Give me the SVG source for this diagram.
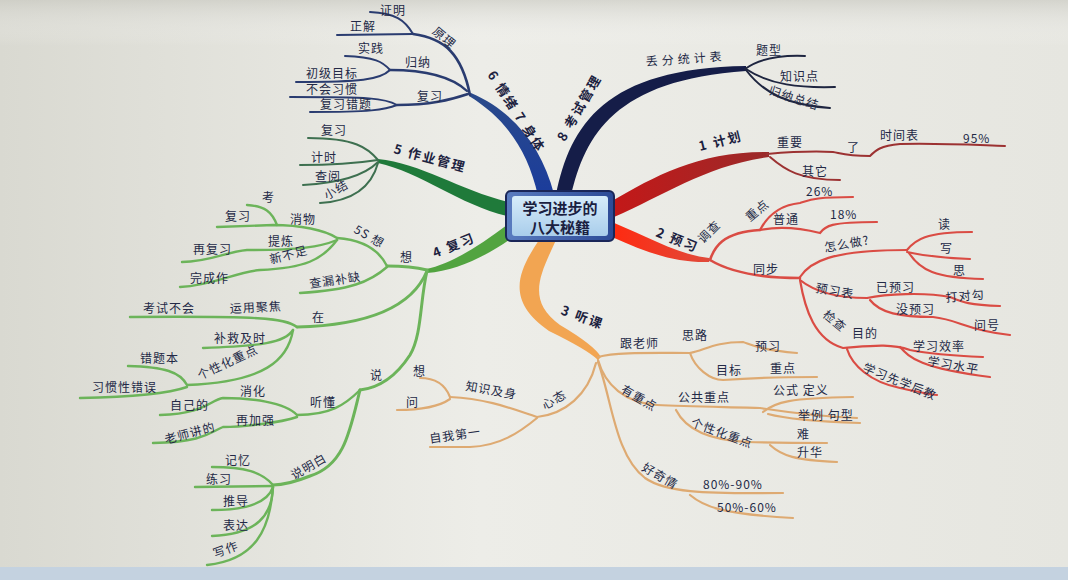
<svg xmlns="http://www.w3.org/2000/svg" width="1068" height="580" viewBox="0 0 1068 580">
<defs>
<linearGradient id="bg" x1="0" y1="0" x2="1" y2="0">
<stop offset="0" stop-color="#d9d9d1"/><stop offset="0.45" stop-color="#ededE8"/><stop offset="1" stop-color="#e6e6e0"/>
</linearGradient>
<linearGradient id="bgv" x1="0" y1="0" x2="0" y2="1">
<stop offset="0" stop-color="#c8c8c0" stop-opacity="0.6"/><stop offset="0.08" stop-color="#ffffff" stop-opacity="0"/><stop offset="1" stop-color="#ffffff" stop-opacity="0"/>
</linearGradient>
<linearGradient id="box" x1="0" y1="0" x2="0" y2="1">
<stop offset="0" stop-color="#d6ecfa"/><stop offset="1" stop-color="#a9cdeb"/>
</linearGradient>
<linearGradient id="boxo" x1="0" y1="0" x2="1" y2="0">
<stop offset="0" stop-color="#5a7cc0"/><stop offset="1" stop-color="#2c4a96"/>
</linearGradient>
<linearGradient id="gB" x1="0" y1="1" x2="0" y2="0">
<stop offset="0" stop-color="#1b3c9c"/><stop offset="1" stop-color="#2a4a8a"/>
</linearGradient>
<linearGradient id="gR1" x1="0" y1="0" x2="1" y2="0">
<stop offset="0" stop-color="#c41818"/><stop offset="1" stop-color="#9a2a2a"/>
</linearGradient>
<linearGradient id="gR2" x1="0" y1="0" x2="1" y2="0">
<stop offset="0" stop-color="#ff2a10"/><stop offset="1" stop-color="#e04a3a"/>
</linearGradient>
</defs>
<style>
.t{font-family:"Noto Sans CJK SC","Noto Sans",sans-serif;font-size:12px;letter-spacing:1px;fill:#232946}
.m{font-family:"Noto Sans CJK SC","Noto Sans",sans-serif;font-size:13px;font-weight:bold;letter-spacing:2px;fill:#1c2240}
.c{font-family:"Noto Sans CJK SC","Noto Sans",sans-serif;font-size:15px;font-weight:bold;fill:#1a2040}
.k{fill:none;stroke-linecap:round}
.th{stroke:none}
.l6{stroke:#2a3c70;stroke-width:2}
.l8{stroke:#1e2540;stroke-width:2}
.l1{stroke:#9c3232;stroke-width:2}
.l2{stroke:#da4c44;stroke-width:2.2}
.l3{stroke:#deaa72;stroke-width:2.2}
.l4{stroke:#6cb45a;stroke-width:2.4}
.l5{stroke:#3e7050;stroke-width:2}
</style>
<rect x="0" y="0" width="1068" height="580" fill="url(#bg)"/>
<rect x="0" y="0" width="1068" height="580" fill="url(#bgv)"/>
<rect x="0" y="567" width="1068" height="13" fill="#c4d2e0"/>

<g id="connectors">
<!-- main thick branches -->
<path class="th" style="fill:url(#gB)" d="M538,196 C528,150 505,118 469,96 L471,93 C515,112 542,148 554,194 Z"/>
<path class="th" style="fill:#151d48" d="M556,195 C570,125 605,68 746,66 L746,71 C615,80 585,135 571,196 Z"/>
<path class="th" style="fill:url(#gR1)" d="M612,201 C655,176 700,151 769,152 L769,157 C705,166 665,195 614,217 Z"/>
<path class="th" style="fill:url(#gR2)" d="M612,222 C650,238 680,255 709,258 L709,262 C675,263 645,252 612,237 Z"/>
<path class="th" style="fill:#f2a552" d="M539,240 C519,270 504,300 549,331 Q588,350 598,360 L601,357 Q594,345 560,325 C526,300 540,275 556,240 Z"/>
<path class="th" style="fill:#52a440" d="M507,225 C480,245 452,264 426,269 L427,273 C456,271 486,256 509,240 Z"/>
<path class="th" style="fill:#1f7a3a" d="M508,202 C460,190 420,163 378,159 L378,163 C420,172 460,205 507,216 Z"/>

<!-- 6 -->
<path class="k l6" style="stroke-width:2.6" d="M470,95 C462,55 445,38 413,34"/>
<path class="k l6" d="M413,34 C405,20 395,13 370,12"/>
<path class="k l6" d="M413,34 L337,35"/>
<path class="k l6" style="stroke-width:2.4" d="M467,91 C450,75 420,70 390,70"/>
<path class="k l6" d="M390,70 C383,62 375,57 345,56"/>
<path class="k l6" d="M390,70 C380,80 360,82 296,82"/>
<path class="k l6" style="stroke-width:2.4" d="M468,94 C450,100 430,105 397,105"/>
<path class="k l6" d="M397,105 C385,98 370,97 290,97"/>
<path class="k l6" d="M397,105 C385,110 370,112 310,112"/>
<!-- 8 -->
<path class="k l8" d="M745,69 C760,58 780,55 805,56"/>
<path class="k l8" d="M746,69 C770,85 800,88 835,87"/>
<path class="k l8" d="M746,70 C765,95 790,105 830,108"/>
<!-- 1 -->
<path class="k l1" d="M767,154 C790,152 815,151 833,152 C840,153 845,156 870,156 C876,150 880,146 900,144 C940,143 975,145 1005,146"/>
<path class="k l1" d="M770,157 C785,170 800,180 840,180"/>
<!-- 2 -->
<path class="k l2" style="stroke-width:2.6" d="M710,260 C714,248 722,232 760,230"/>
<path class="k l2" d="M760,230 C768,215 780,205 800,203 C810,200 815,197 853,197"/>
<path class="k l2" d="M760,230 C780,226 800,228 820,233 C825,226 830,222 877,222"/>
<path class="k l2" style="stroke-width:2.6" d="M710,260 C730,272 760,278 800,278"/>
<path class="k l2" d="M800,277 C810,262 830,250 907,250"/>
<path class="k l2" d="M907,250 C915,240 925,232 972,232"/>
<path class="k l2" d="M907,252 C925,256 945,258 970,259"/>
<path class="k l2" d="M909,253 C920,270 935,278 983,279"/>
<path class="k l2" d="M800,280 C815,292 835,298 867,298"/>
<path class="k l2" d="M867,298 C885,294 925,292 950,297 C962,302 968,305 1000,306"/>
<path class="k l2" d="M870,300 C880,313 900,317 933,317 C960,320 965,330 1010,335"/>
<path class="k l2" d="M800,280 C805,310 815,340 843,348 C870,346 890,343 910,350 C930,354 960,356 983,357"/>
<path class="k l2" d="M900,347 C910,358 920,368 990,377"/>
<path class="k l2" d="M847,349 C852,365 870,382 900,388 C915,391 925,394 937,395"/>
<!-- 3 -->
<path class="k l3" d="M598,357 C615,352 650,353 690,353 C705,350 715,342 743,342 C752,345 760,350 797,353"/>
<path class="k l3" d="M690,353 C695,368 710,380 723,380 C750,378 780,377 817,377"/>
<path class="k l3" d="M598,360 C605,385 625,403 657,405 C690,407 740,407 760,408 C780,411 810,416 857,418"/>
<path class="k l3" d="M763,412 C775,402 790,398 853,397"/>
<path class="k l3" d="M768,414 C790,420 830,422 860,423"/>
<path class="k l3" d="M676,410 C685,428 705,440 747,442 C780,443 800,443 827,443"/>
<path class="k l3" d="M770,445 C782,456 795,460 837,462"/>
<path class="k l3" d="M598,362 C612,400 615,455 645,478 C665,492 700,494 783,493"/>
<path class="k l3" d="M690,495 C703,506 720,514 793,518"/>
<path class="k l3" d="M596,363 C588,395 565,414 537,417 C515,410 490,399 450,397"/>
<path class="k l3" d="M450,397 C445,384 435,378 420,378"/>
<path class="k l3" d="M450,399 C440,406 425,410 397,410"/>
<path class="k l3" d="M537,418 C520,432 500,446 470,447 L430,447"/>
<!-- 4 -->
<path class="k l4" style="stroke-width:3" d="M427,270 C415,267 400,266 387,266"/>
<path class="k l4" d="M387,266 C380,252 365,240 337,238"/>
<path class="k l4" d="M337,238 C325,230 300,225 273,225 L217,227"/>
<path class="k l4" d="M277,225 C272,212 265,206 247,205"/>
<path class="k l4" d="M337,240 C320,247 300,250 247,250 C225,252 210,262 182,262"/>
<path class="k l4" d="M337,240 C322,260 305,268 260,270 C235,272 215,285 180,287"/>
<path class="k l4" d="M387,267 C370,282 350,290 300,293"/>
<path class="k l4" style="stroke-width:3" d="M427,271 C415,300 380,325 297,327"/>
<path class="k l4" d="M297,327 C285,318 260,316 130,317"/>
<path class="k l4" d="M293,330 C285,343 260,346 203,348"/>
<path class="k l4" d="M293,330 C288,360 265,382 187,385"/>
<path class="k l4" d="M187,385 C180,372 165,367 128,366"/>
<path class="k l4" d="M187,387 C170,393 130,397 80,398"/>
<path class="k l4" style="stroke-width:3" d="M427,271 C420,300 422,335 410,355 C395,378 378,388 360,390"/>
<path class="k l4" d="M360,390 C345,405 330,415 297,415"/>
<path class="k l4" d="M297,415 C285,402 250,398 223,398 C210,400 205,414 160,415"/>
<path class="k l4" d="M297,417 C280,423 240,427 223,427 C210,432 205,442 153,443"/>
<path class="k l4" style="stroke-width:3" d="M360,390 C350,430 345,465 310,476 C295,482 285,485 273,485"/>
<path class="k l4" d="M273,485 C262,472 245,467 212,467"/>
<path class="k l4" d="M273,486 L195,487"/>
<path class="k l4" d="M273,487 C268,502 250,510 212,510"/>
<path class="k l4" d="M273,487 C272,515 258,534 212,536"/>
<path class="k l4" d="M273,487 C270,530 255,560 207,565"/>
<!-- 5 -->
<path class="k l5" d="M378,160 C368,148 355,138 308,138"/>
<path class="k l5" d="M378,160 C365,162 340,165 300,165"/>
<path class="k l5" d="M378,162 C365,175 340,183 303,185"/>
<path class="k l5" d="M378,163 C372,185 355,201 320,203"/>
</g>

<g id="center">
<rect x="506" y="191" width="108" height="50" rx="5" fill="url(#boxo)" stroke="#1a2658" stroke-width="2"/>
<rect x="512" y="196" width="96" height="40" rx="3" fill="url(#box)"/>
<text class="c" x="560" y="214" text-anchor="middle">学习进步的</text>
<text class="c" x="560" y="233" text-anchor="middle">八大秘籍</text>
</g>

<g id="n6">
<text class="m" x="516" y="116" text-anchor="middle" transform="rotate(57 516 112)">6 情绪 7 身体</text>
<text class="t" x="444" y="42" text-anchor="middle" transform="rotate(40 444 38)">原理</text>
<text class="t" x="380" y="15">证明</text>
<text class="t" x="350" y="31">正解</text>
<text class="t" x="358" y="53">实践</text>
<text class="t" x="405" y="67">归纳</text>
<text class="t" x="306" y="78">初级目标</text>
<text class="t" x="306" y="94">不会习惯</text>
<text class="t" x="417" y="101">复习</text>
<text class="t" x="320" y="109">复习错题</text>
</g>

<g id="n8">
<text class="m" x="580" y="112" text-anchor="middle" transform="rotate(-60 580 108)">8 考试管理</text>
<text class="t" x="646" y="66" style="letter-spacing:4px" transform="rotate(-4 646 66)">丢分统计表</text>
<text class="t" x="756" y="55">题型</text>
<text class="t" x="780" y="81">知识点</text>
<text class="t" x="768" y="94" transform="rotate(18 768 94)">归纳总结</text>
</g>

<g id="n1">
<text class="m" x="700" y="151" transform="rotate(-14 700 151)">1 计划</text>
<text class="t" x="777" y="147">重要</text>
<text class="t" x="847" y="152">了</text>
<text class="t" x="880" y="140">时间表</text>
<text class="t" x="963" y="143">95%</text>
<text class="t" x="802" y="176">其它</text>
</g>

<g id="n2">
<text class="m" x="655" y="236" transform="rotate(22 655 236)">2 预习</text>
<text class="t" x="703" y="244" transform="rotate(-45 703 244)">调查</text>
<text class="t" x="750" y="222" transform="rotate(-40 750 222)">重点</text>
<text class="t" x="806" y="196">26%</text>
<text class="t" x="773" y="224">普通</text>
<text class="t" x="830" y="219">18%</text>
<text class="t" x="753" y="274">同步</text>
<text class="t" x="825" y="252" transform="rotate(-10 825 252)">怎么做?</text>
<text class="t" x="938" y="229">读</text>
<text class="t" x="940" y="253">写</text>
<text class="t" x="953" y="275">思</text>
<text class="t" x="815" y="292" transform="rotate(10 815 292)">预习表</text>
<text class="t" x="876" y="292">已预习</text>
<text class="t" x="946" y="302" transform="rotate(-5 946 302)">打对勾</text>
<text class="t" x="896" y="314">没预习</text>
<text class="t" x="974" y="330">问号</text>
<text class="t" x="822" y="316" transform="rotate(40 822 316)">检查</text>
<text class="t" x="852" y="338">目的</text>
<text class="t" x="913" y="351">学习效率</text>
<text class="t" x="927" y="365" transform="rotate(10 927 365)">学习水平</text>
<text class="t" x="862" y="371" transform="rotate(22 862 371)">学习先学后教</text>
</g>

<g id="n3">
<text class="m" x="560" y="314" transform="rotate(20 560 314)">3 听课</text>
<text class="t" x="620" y="348">跟老师</text>
<text class="t" x="682" y="340">思路</text>
<text class="t" x="755" y="351">预习</text>
<text class="t" x="716" y="375">目标</text>
<text class="t" x="770" y="373">重点</text>
<text class="t" x="620" y="392" transform="rotate(30 620 392)">有重点</text>
<text class="t" x="678" y="402">公共重点</text>
<text class="t" x="773" y="395">公式 定义</text>
<text class="t" x="798" y="420">举例 句型</text>
<text class="t" x="690" y="426" transform="rotate(20 690 426)">个性化重点</text>
<text class="t" x="797" y="439">难</text>
<text class="t" x="797" y="457">升华</text>
<text class="t" x="641" y="470" transform="rotate(30 641 470)">好奇情</text>
<text class="t" x="703" y="489">80%-90%</text>
<text class="t" x="717" y="512">50%-60%</text>
<text class="t" x="545" y="410" transform="rotate(-30 545 410)">心态</text>
<text class="t" x="465" y="390" transform="rotate(10 465 390)">知识及身</text>
<text class="t" x="413" y="376">想</text>
<text class="t" x="406" y="407">问</text>
<text class="t" x="430" y="443" transform="rotate(-8 430 443)">自我第一</text>
</g>

<g id="n4">
<text class="m" x="435" y="258" transform="rotate(-22 435 258)">4 复习</text>
<text class="t" x="400" y="262">想</text>
<text class="t" x="353" y="232" transform="rotate(30 353 232)">5S 想</text>
<text class="t" x="290" y="224">消物</text>
<text class="t" x="225" y="221">复习</text>
<text class="t" x="262" y="202">考</text>
<text class="t" x="268" y="246">提炼</text>
<text class="t" x="193" y="254">再复习</text>
<text class="t" x="271" y="264" transform="rotate(-15 271 264)">新不足</text>
<text class="t" x="190" y="283">完成作</text>
<text class="t" x="310" y="288" transform="rotate(-8 310 288)">查漏补缺</text>
<text class="t" x="312" y="322">在</text>
<text class="t" x="230" y="313" transform="rotate(-3 230 313)">运用聚焦</text>
<text class="t" x="143" y="313">考试不会</text>
<text class="t" x="214" y="343">补救及时</text>
<text class="t" x="200" y="380" transform="rotate(-25 200 380)">个性化重点</text>
<text class="t" x="140" y="363">错题本</text>
<text class="t" x="92" y="392">习惯性错误</text>
<text class="t" x="370" y="380">说</text>
<text class="t" x="310" y="407">听懂</text>
<text class="t" x="240" y="396">消化</text>
<text class="t" x="170" y="410">自己的</text>
<text class="t" x="236" y="425">再加强</text>
<text class="t" x="166" y="444" transform="rotate(-15 166 444)">老师讲的</text>
<text class="t" x="294" y="480" transform="rotate(-30 294 480)">说明白</text>
<text class="t" x="225" y="465">记忆</text>
<text class="t" x="206" y="484">练习</text>
<text class="t" x="223" y="506">推导</text>
<text class="t" x="223" y="530">表达</text>
<text class="t" x="215" y="558" transform="rotate(-20 215 558)">写作</text>
</g>

<g id="n5">
<text class="m" x="393" y="153" transform="rotate(15 393 153)">5 作业管理</text>
<text class="t" x="321" y="135">复习</text>
<text class="t" x="311" y="162">计时</text>
<text class="t" x="315" y="181">查阅</text>
<text class="t" x="327" y="200" transform="rotate(-30 327 200)">小结</text>
</g>
</svg>
